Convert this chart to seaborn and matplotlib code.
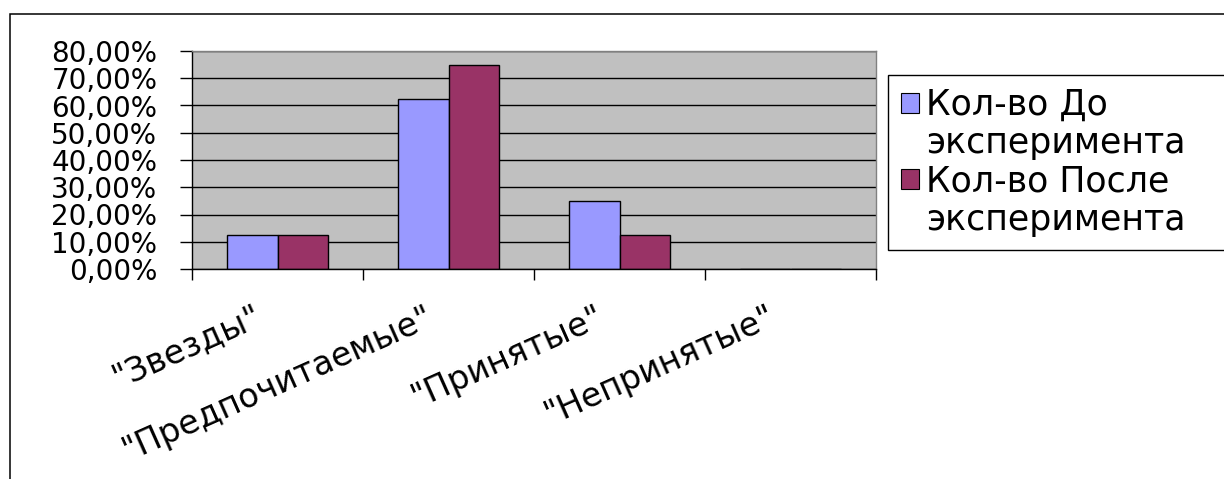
import matplotlib
matplotlib.use("Agg")
import matplotlib.pyplot as plt
from matplotlib.patches import Patch, Rectangle
from matplotlib.ticker import FixedLocator, FuncFormatter, MultipleLocator
from matplotlib.transforms import ScaledTranslation
import pandas as pd
import seaborn as sns

# Sociometric status groups and their shares before / after the experiment
categories = ['"Звезды"', '"Предпочитаемые"', '"Принятые"', '"Непринятые"']
series_names = ["Кол-во До эксперимента", "Кол-во После эксперимента"]
share_before = [0.125, 0.625, 0.25, 0.0]
share_after = [0.125, 0.75, 0.125, 0.0]
bar_colors = ["#9999FF", "#993366"]

df = pd.DataFrame({
    "category": categories * 2,
    "series": [series_names[0]] * len(categories) + [series_names[1]] * len(categories),
    "share": share_before + share_after,
})

sns.set_style("white")
plt.rcParams["font.family"] = ["DejaVu Sans"]
for key in ("text.color", "xtick.color", "ytick.color", "axes.labelcolor"):
    plt.rcParams[key] = "black"

W, H = 1224, 479
fig = plt.figure(figsize=(W / 100, H / 100), dpi=100)
fig.patch.set_facecolor("white")

# plot area in pixel units
left, right, top, bottom = 192, 876, 51, 269
ax = fig.add_axes([left / W, (H - bottom) / H, (right - left) / W, (bottom - top) / H])
ax.set_facecolor("#C0C0C0")
ax.set_axisbelow(True)

sns.barplot(
    data=df, x="category", y="share", hue="series",
    order=categories, hue_order=series_names,
    palette=bar_colors, width=0.585, edgecolor="black", linewidth=1.0,
    legend=False, ax=ax, errorbar=None, saturation=1,
)

ax.set_xlim(-0.5, len(categories) - 0.5)
ax.set_ylim(0, 0.8)
ax.yaxis.set_major_locator(MultipleLocator(0.1))
ax.yaxis.set_major_formatter(FuncFormatter(lambda v, _: f"{v * 100:.2f}%".replace(".", ",")))
ax.grid(axis="y", color="black", linewidth=1.0)
ax.grid(axis="x", visible=False)
ax.set_xlabel("")
ax.set_ylabel("")

for side in ("left", "bottom"):
    ax.spines[side].set_color("black")
    ax.spines[side].set_linewidth(1.0)
for side in ("top", "right"):
    ax.spines[side].set_color("#808080")
    ax.spines[side].set_linewidth(1.0)

# y axis ticks and labels
ax.tick_params(axis="y", which="major", direction="out", length=9, width=1.0,
               color="black", pad=16, labelsize=20, left=True)

# category boundaries carry the tick marks, labels sit at the centres
ax.xaxis.set_minor_locator(FixedLocator([i - 0.5 for i in range(len(categories) + 1)]))
ax.tick_params(axis="x", which="minor", direction="out", length=8, width=1.0,
               color="black", bottom=True)
ax.tick_params(axis="x", which="major", length=0, pad=22, labelsize=24)
ax.set_xticks(range(len(categories)))
ax.set_xticklabels(categories, rotation=24, ha="right", va="top", rotation_mode="anchor")
shift = ScaledTranslation(-24 / 100, 0, fig.dpi_scale_trans)
for lbl in ax.get_xticklabels():
    lbl.set_transform(lbl.get_transform() + shift)

# legend: each series name wrapped onto two lines
handles, labels = [], []
for name, color in zip(series_names, bar_colors):
    first, second = name.rsplit(" ", 1)
    handles.append(Patch(facecolor=color, edgecolor="black", linewidth=0.8))
    labels.append(first)
    handles.append(Patch(facecolor="none", edgecolor="none"))
    labels.append(second)

leg_left, leg_top, leg_bottom = 888, 75, 248
leg = fig.legend(
    handles, labels, loc="upper left",
    bbox_to_anchor=(leg_left / W, (H - leg_bottom) / H, 0.35, (leg_bottom - leg_top) / H),
    mode="expand", fontsize=25, frameon=True, fancybox=False, framealpha=1,
    edgecolor="black", borderpad=0.38, handlelength=0.5, handleheight=0.5,
    handletextpad=0.22, labelspacing=0.12, borderaxespad=0,
)
leg.get_frame().set_linewidth(1.0)

# chart area border
fig.add_artist(Rectangle((10 / W, -0.1), 1.2, (H - 14) / H + 0.1,
                         transform=fig.transFigure, fill=False,
                         edgecolor="black", linewidth=1.1))

fig.savefig("out.png", dpi=100, facecolor="white")
